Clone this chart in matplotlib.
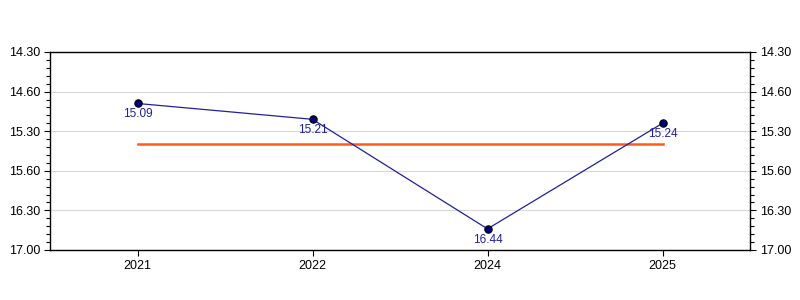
import matplotlib as mpl
import matplotlib.pyplot as plt
import numpy as np
from matplotlib.ticker import MultipleLocator

mpl.rcParams['font.family'] = ['Liberation Sans', 'DejaVu Sans']

# times as minutes.seconds
years = ["2021", "2022", "2024", "2025"]
times = ["15.09", "15.21", "16.44", "15.24"]
ytick_values = [14.5, 15.0, 15.5, 16.0, 16.5, 17.0]
ytick_labels = ["14.30", "14.60", "15.30", "15.60", "16.30", "17.00"]


def to_minutes(s):
    m, sec = s.split(".")
    return int(m) + int(sec) / 60.0


minutes = np.array([to_minutes(t) for t in times])
average = minutes.mean()
x = np.arange(len(years))

fig = plt.figure(figsize=(8, 3), dpi=100)
ax = fig.add_axes([0.0625, 0.1667, 0.875, 0.66])

ax.plot(x, minutes, color="#2020a0", lw=0.9, zorder=3)
ax.scatter(x, minutes, s=28, color="#000080", edgecolor="black",
           linewidth=0.8, zorder=4)
ax.plot([x[0], x[-1]], [average, average], color="#ff5a1a", lw=1.8,
        zorder=2)

for xi, yi, lab in zip(x, minutes, times):
    ax.annotate(lab, (xi, yi), xytext=(0, -3.5), textcoords="offset points",
                ha="center", va="top", fontsize=8.5, color="#2020a0",
                zorder=5)

ax.set_xlim(-0.5, len(years) - 0.5)
ax.set_xticks(x)
ax.set_xticklabels(years, fontsize=9)
ax.set_ylim(17.0, 14.5)
ax.set_yticks(ytick_values)
ax.set_yticklabels(ytick_labels, fontsize=9)
ax.yaxis.set_minor_locator(MultipleLocator(0.1))
ax.tick_params(axis="y", which="both", left=True, right=True,
               labelleft=True, labelright=True, direction="out")
ax.tick_params(axis="y", which="major", length=4, width=0.8, pad=3)
ax.tick_params(axis="y", which="minor", length=3, width=0.8)
ax.tick_params(axis="x", length=4, width=0.8, pad=3)
ax.grid(axis="y", which="major", color="#d8d8d8", lw=0.8)
ax.set_axisbelow(True)
for sp in ax.spines.values():
    sp.set_linewidth(1.0)

fig.savefig("out.png", dpi=100)
